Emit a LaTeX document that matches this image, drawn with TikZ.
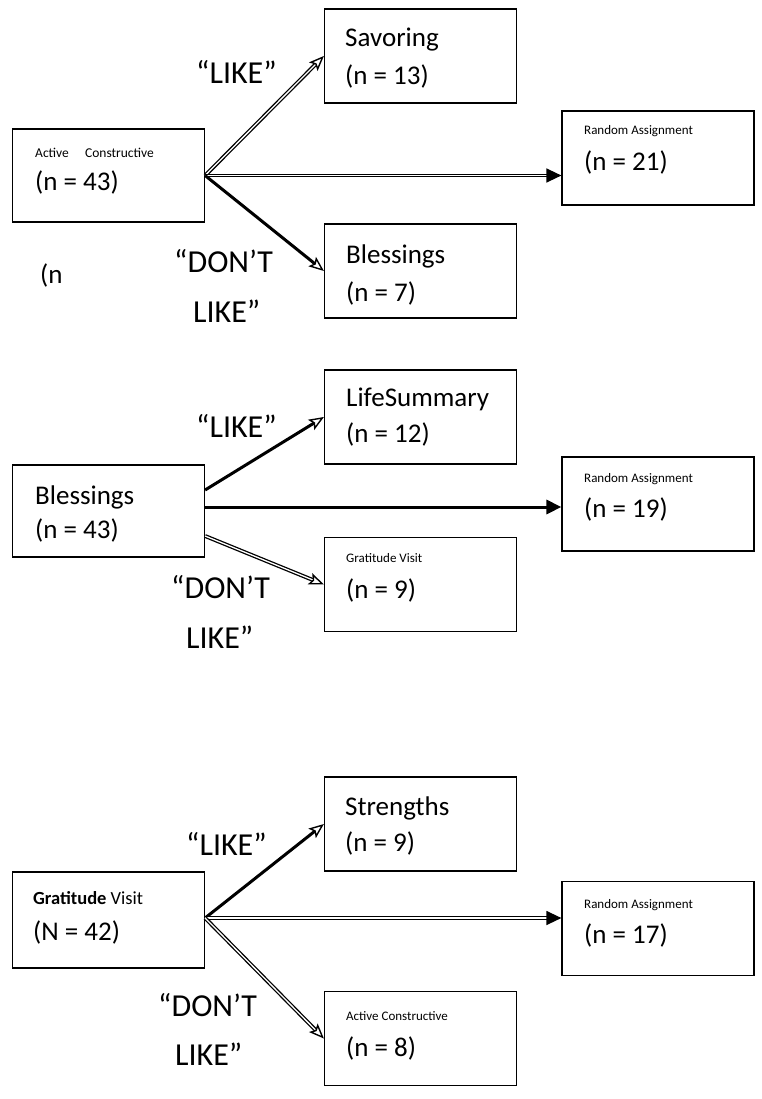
\documentclass[tikz,border=0pt]{standalone}
\usepackage{fontspec}
\setmainfont{Carlito}
\usetikzlibrary{arrows.meta}
\tikzset{
  box/.style={draw, line width=1.2pt, minimum width=192pt, minimum height=94pt, inner sep=0pt},
  big/.style={font=\fontsize{27}{30}\selectfont, inner sep=0pt, anchor=base west},
  sml/.style={font=\fontsize{13}{15}\selectfont, inner sep=0pt, anchor=base west},
  lbl/.style={font=\fontsize{32}{36}\selectfont, inner sep=0pt, anchor=base west},
  dbl/.style={double, double distance=1.3pt, line width=1.3pt},
  thk/.style={line width=3pt},
  openhead/.style={-{Stealth[open, length=15pt, width=12pt, inset=3pt, line width=1.4pt]}},
  fillhead/.style={-{Triangle[length=15pt, width=14pt]}}
}
\begin{document}
\begin{tikzpicture}[x=1pt, y=-1pt]
\useasboundingbox (0,0) rectangle (761,1099);

% ---------- Group 1 ----------
\node[box, minimum height=93pt] (ac) at (108.5,175.5) {};
\node[box] (sav) at (420.5,56) {};
\node[box] (ra1) at (658,158) {};
\node[box] (bl7) at (420.5,271) {};

\node[sml, font=\fontsize{13.5}{15}\selectfont] (t1a) at (35,158) {Active\hspace{1.2em}Constructive};
\node[big] (t1b) at (35,191) {(n = 43)};
\node[big] (t1c) at (345,47) {Savoring};
\node[big] (t1d) at (345,85) {(n = 13)};
\node[sml] (t1e) at (584,135) {Random Assignment};
\node[big] (t1f) at (584,171) {(n = 21)};
\node[big] (t1g) at (346,263) {Blessings};
\node[big] (t1h) at (346,301) {(n = 7)};
\node[big] (t1i) at (40,283) {(n};
\node[lbl] (l1a) at (196,84) {“LIKE”};
\node[lbl] (l1b) at (174,272) {“DON’T};
\node[lbl] (l1c) at (193,322) {LIKE”};

\coordinate (s1) at (ac.east);
\coordinate (e1) at (s1 -| ra1.west);
\draw[dbl, openhead] (s1) -- (sav.west);
\draw[dbl, fillhead] (s1) -- (e1);
\draw[thk, openhead] (s1) -- (bl7.west);

% ---------- Group 2 ----------
\node[box, minimum height=92pt] (b43) at (108.5,511) {};
\node[box] (ls) at (420.5,417) {};
\node[box] (ra2) at (658,504) {};
\node[box] (gv9) at (420.5,584.5) {};

\node[big] (t2a) at (35,504) {Blessings};
\node[big] (t2b) at (35,538) {(n = 43)};
\node[big] (t2c) at (346,406) {LifeSummary};
\node[big] (t2d) at (346,442) {(n = 12)};
\node[sml] (t2e) at (584,482) {Random Assignment};
\node[big] (t2f) at (584,517) {(n = 19)};
\node[sml] (t2g) at (346,562) {Gratitude Visit};
\node[big] (t2h) at (346,598) {(n = 9)};
\node[lbl] (l2a) at (196,437) {“LIKE”};
\node[lbl] (l2b) at (171,598) {“DON’T};
\node[lbl] (l2c) at (186,648) {LIKE”};

\coordinate (s2a) at ([yshift=21pt]b43.east);
\coordinate (s2b) at ([yshift=4pt]b43.east);
\coordinate (e2b) at (s2b -| ra2.west);
\coordinate (s2c) at ([yshift=-25pt]b43.east);
\draw[thk, openhead] (s2a) -- (ls.west);
\draw[thk, fillhead] (s2b) -- (e2b);
\draw[dbl, openhead] (s2c) -- (gv9.west);

% ---------- Group 3 ----------
\node[box, minimum height=96pt] (gv) at (108.5,920) {};
\node[box] (str) at (420.5,824) {};
\node[box] (ra3) at (658,928.5) {};
\node[box] (ac8) at (420.5,1038.5) {};

\node[font=\fontsize{18.5}{20}\selectfont, inner sep=0pt, anchor=base west] (t3a) at (33,904) {\textbf{Gratitude} Visit};
\node[big] (t3b) at (33,940) {(N = 42)};
\node[big] (t3c) at (345,815) {Strengths};
\node[big] (t3d) at (345,851) {(n = 9)};
\node[sml] (t3e) at (584,908) {Random Assignment};
\node[big] (t3f) at (584,943) {(n = 17)};
\node[sml] (t3g) at (346,1020) {Active Constructive};
\node[big] (t3h) at (346,1056) {(n = 8)};
\node[lbl] (l3a) at (186,855) {“LIKE”};
\node[lbl] (l3b) at (158,1016) {“DON’T};
\node[lbl] (l3c) at (175,1065) {LIKE”};

\coordinate (s3) at ([yshift=2pt]gv.east);
\coordinate (e3) at (s3 -| ra3.west);
\draw[thk, openhead] (s3) -- (str.west);
\draw[dbl, fillhead] (s3) -- (e3);
\draw[dbl, openhead] (s3) -- (ac8.west);
\end{tikzpicture}
\end{document}
